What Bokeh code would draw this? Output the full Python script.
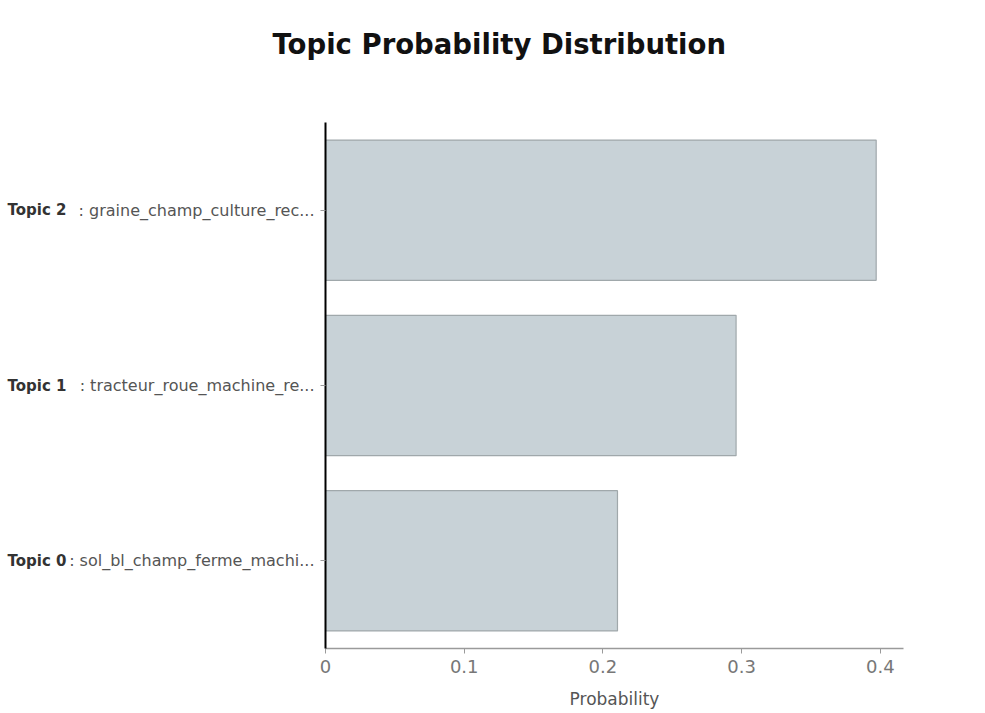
from bokeh.plotting import figure
from bokeh.models import Range1d, FixedTicker, Title, LinearAxis
from bokeh.embed import file_html
from bokeh.resources import INLINE

# ---- data ----
topics = ["Topic 0", "Topic 1", "Topic 2"]
topic_words = ["sol_bl_champ_ferme_machi...",
               "tracteur_roue_machine_re...",
               "graine_champ_culture_rec..."]
probabilities = [0.2105, 0.296, 0.397]
x_ticks = [0, 0.1, 0.2, 0.3, 0.4]
x_tick_labels = ["0", "0.1", "0.2", "0.3", "0.4"]

FONT = "DejaVu Sans"

# category positions (centre of each slot)
y_pos = [i + 0.5 for i in range(len(topics))]

p = figure(width=980, height=713, output_backend="svg", toolbar_location=None,
           y_range=Range1d(0, len(topics)),
           x_range=Range1d(0, 0.4167),
           min_border_left=325, min_border_right=77,
           min_border_top=122, min_border_bottom=65)
p.title = None
# spacer between frame and title (first item in "above" sits nearest the frame)
p.add_layout(Title(text=" ", text_font_size="10px", standoff=45), "above")
p.add_layout(Title(text="Topic Probability Distribution", align="left", offset=-53,
                   text_font=FONT, text_font_size="27.5px", text_font_style="bold",
                   text_color="#111111", standoff=10), "above")

p.hbar(y=y_pos, right=probabilities, left=0, height=0.8,
       fill_color="#C8D2D7", line_color="#A0A8AB", line_width=1.2)

p.grid.visible = False
p.outline_line_color = None
p.background_fill_color = "white"
p.border_fill_color = "white"

# x axis
xa = p.xaxis[0]
xa.ticker = FixedTicker(ticks=x_ticks)
xa.major_label_overrides = {tk: lb for tk, lb in zip(x_ticks, x_tick_labels)}
xa.axis_line_color = "#9a9a9a"
xa.axis_line_width = 1.5
xa.major_tick_line_color = "#9a9a9a"
xa.major_tick_in = 0
xa.major_tick_out = 5
xa.minor_tick_line_color = None
xa.major_label_text_font = FONT
xa.major_label_text_font_size = "18px"
xa.major_label_text_color = "#777777"
xa.major_label_standoff = 6
xa.axis_label = "Probability"
xa.axis_label_text_font = FONT
xa.axis_label_text_font_size = "17px"
xa.axis_label_text_font_style = "normal"
xa.axis_label_text_color = "#555555"
xa.axis_label_standoff = 13

# inner y axis: ": words" part of each label
ya = p.yaxis[0]
ya.ticker = FixedTicker(ticks=y_pos)
ya.major_label_overrides = {yc: ": " + w for yc, w in zip(y_pos, topic_words)}
ya.axis_line_color = "black"
ya.axis_line_width = 2
ya.major_tick_line_color = "#9a9a9a"
ya.major_tick_in = 0
ya.major_tick_out = 5
ya.minor_tick_line_color = None
ya.major_label_text_font = FONT
ya.major_label_text_font_size = "16px"
ya.major_label_text_color = "#555555"
ya.major_label_standoff = 6

# outer y axis: bold "Topic N" part of each label
yb = LinearAxis(ticker=FixedTicker(ticks=y_pos),
                major_label_overrides={yc: t for yc, t in zip(y_pos, topics)})
yb.axis_line_color = None
yb.major_tick_line_color = None
yb.minor_tick_line_color = None
yb.major_tick_in = 0
yb.major_tick_out = 0
yb.major_label_standoff = 0
yb.major_label_text_font = FONT
yb.major_label_text_font_size = "15px"
yb.major_label_text_font_style = "bold"
yb.major_label_text_color = "#333333"
p.add_layout(yb, "left")

open("out.html", "w").write(file_html(p, INLINE))
